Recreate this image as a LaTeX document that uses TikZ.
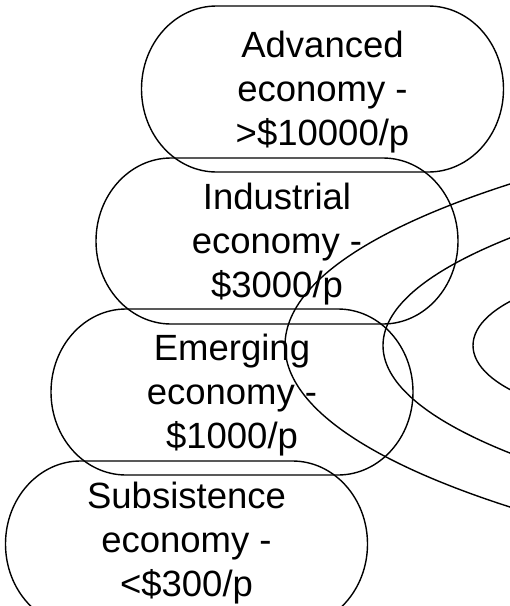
\documentclass[tikz,border=0pt]{standalone}
\usepackage{fontspec}
\setmainfont{Liberation Sans}
\begin{document}
\begin{tikzpicture}[x=1pt,y=-1pt,line width=1.4pt,
  lbl/.style={align=center,font=\fontsize{36.5}{44}\selectfont,inner sep=0pt},
  stadium/.pic={\draw (-106,-83) -- (106,-83)
      arc[start angle=-90,end angle=90,x radius=75,y radius=83]
      -- (-106,83)
      arc[start angle=90,end angle=270,x radius=75,y radius=83] -- cycle;}]
\useasboundingbox (0,0) rectangle (510,606);
\begin{scope}
\clip (0,0) rectangle (510,606);
\pic at (322.5,89) {stadium};
\pic at (277,241) {stadium};
\pic at (232,392) {stadium};
\pic at (186.5,544) {stadium};
\draw (1485,345.5) ellipse [x radius=1200, y radius=277];
\draw (1583,345.5) ellipse [x radius=1200, y radius=240];
\draw (673,345.5) ellipse [x radius=200, y radius=76];
\end{scope}
\node[lbl] (adv) at (322.5,92) {Advanced\\economy -\\>\$10000/p};
\node[lbl] (ind) at (277,244) {Industrial\\economy -\\\$3000/p};
\node[lbl] (emg) at (232,395) {Emerging\\economy -\\\$1000/p};
\node[lbl] (sub) at (186.5,543.5) {Subsistence\\economy -\\<\$300/p};
\end{tikzpicture}
\end{document}
